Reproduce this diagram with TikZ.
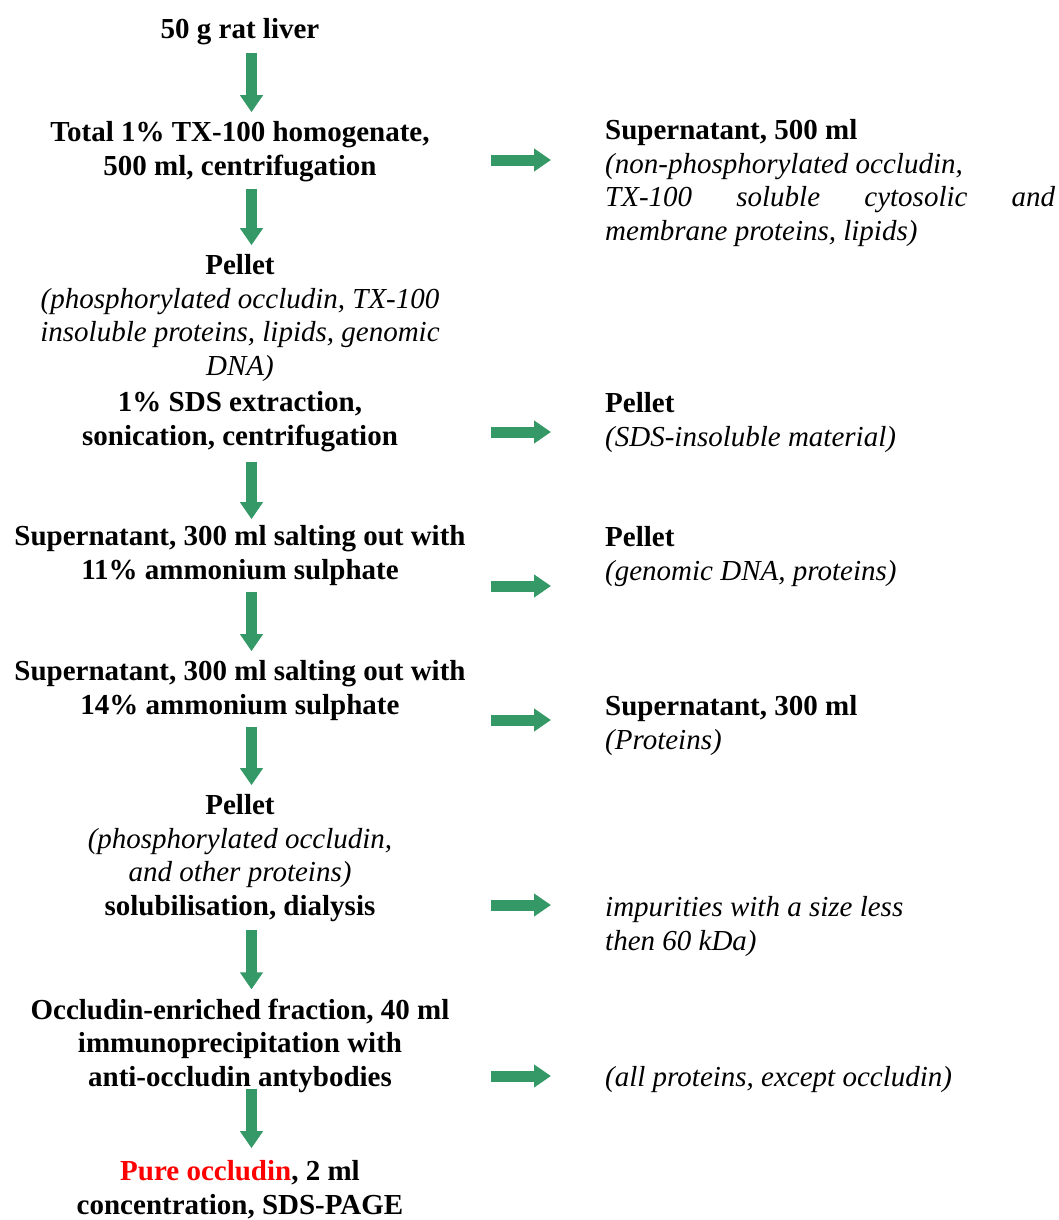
\documentclass[tikz,border=0pt]{standalone}
\usepackage{fontspec}
\setmainfont{Liberation Serif}
\usetikzlibrary{arrows.meta}
\definecolor{flowgreen}{RGB}{52,153,102}
\newcommand{\italnote}[1]{{\normalfont\itshape #1}}
\tikzset{
  stepnode/.style={align=center, inner sep=0pt, anchor=base,
    font=\fontsize{29}{33.5}\selectfont\bfseries},
  sidenode/.style={align=left, inner sep=0pt, anchor=base west,
    font=\fontsize{29}{33.5}\selectfont},
  varrow/.style={flowgreen, line width=11pt,
    -{Triangle[width=22pt,length=17pt]}, shorten <=7pt, shorten >=9pt},
  harrow/.style={flowgreen, line width=11pt,
    -{Triangle[width=22pt,length=17pt]}}
}
\begin{document}
\begin{tikzpicture}[x=1pt,y=1pt]
  \useasboundingbox (0,0) rectangle (1058,-1220);
  % main column (anchored at the baseline of the last line)
  \node[stepnode] (liver) at (240,-39) {50 g rat liver};
  \node[stepnode] (homog) at (240,-175) {Total 1\% TX-100 homogenate,\\ 500 ml, centrifugation};
  \node[stepnode] (pellet1) at (240,-445) {Pellet\\
    \italnote{(phosphorylated occludin, TX-100}\\
    \italnote{insoluble proteins, lipids, genomic}\\
    \italnote{DNA)}\\[3pt]
    1\% SDS extraction,\\ sonication, centrifugation};
  \node[stepnode] (salt1) at (240,-579) {Supernatant, 300 ml salting out with\\ 11\% ammonium sulphate};
  \node[stepnode] (salt2) at (240,-714) {Supernatant, 300 ml salting out with\\ 14\% ammonium sulphate};
  \node[stepnode] (pellet2) at (240,-915) {Pellet\\
    \italnote{(phosphorylated occludin,}\\
    \italnote{and other proteins)}\\
    solubilisation, dialysis};
  \node[stepnode] (enrich) at (240,-1086) {Occludin-enriched fraction, 40 ml\\
    immunoprecipitation with\\ anti-occludin antybodies};
  \node[stepnode] (pure) at (240,-1214) {\textcolor{red}{Pure occludin}, 2 ml\\ concentration, SDS-PAGE};

  % side column
  \node[sidenode] (supA) at (605,-240) {\textbf{Supernatant, 500 ml}\\
    \italnote{(non-phosphorylated occludin,}\\
    \makebox[450pt][s]{\italnote{TX-100 soluble cytosolic and}}\\
    \italnote{membrane proteins, lipids)}};
  \node[sidenode] (sdsout) at (605,-446) {\textbf{Pellet}\\ \italnote{(SDS-insoluble material)}};
  \node[sidenode] (dnaout) at (605,-580) {\textbf{Pellet}\\ \italnote{(genomic DNA, proteins)}};
  \node[sidenode] (supB) at (605,-749) {\textbf{Supernatant, 300 ml}\\ \italnote{(Proteins)}};
  \node[sidenode] (dialout) at (605,-950) {\italnote{impurities with a size less}\\ \italnote{then 60 kDa)}};
  \node[sidenode] (ipout) at (605,-1086) {\italnote{(all proteins, except occludin)}};

  % arrows
  \coordinate (ax) at (251.5,0);
  \draw[varrow] (liver.south -| ax) -- (homog.north -| ax);
  \draw[varrow] (homog.south -| ax) -- (pellet1.north -| ax);
  \draw[varrow, shorten <=10pt, shorten >=6pt] (pellet1.south -| ax) -- (salt1.north -| ax);
  \draw[varrow] (salt1.south -| ax) -- (salt2.north -| ax);
  \draw[varrow] (salt2.south -| ax) -- (pellet2.north -| ax);
  \draw[varrow, shorten <=9pt] (pellet2.south -| ax) -- (enrich.north -| ax);
  \draw[varrow, shorten <=-3pt, shorten >=12pt] (enrich.south -| ax) -- (pure.north -| ax);

  \coordinate (h1) at (491,-160);
  \coordinate (h2) at (491,-432);
  \coordinate (h3) at (491,-586);
  \coordinate (h4) at (491,-720);
  \coordinate (h5) at (491,-905);
  \coordinate (h6) at (491,-1076);
  \draw[harrow] (h1) -- ++(60,0);
  \draw[harrow] (h2) -- ++(60,0);
  \draw[harrow] (h3) -- ++(60,0);
  \draw[harrow] (h4) -- ++(60,0);
  \draw[harrow] (h5) -- ++(60,0);
  \draw[harrow] (h6) -- ++(60,0);
\end{tikzpicture}
\end{document}
